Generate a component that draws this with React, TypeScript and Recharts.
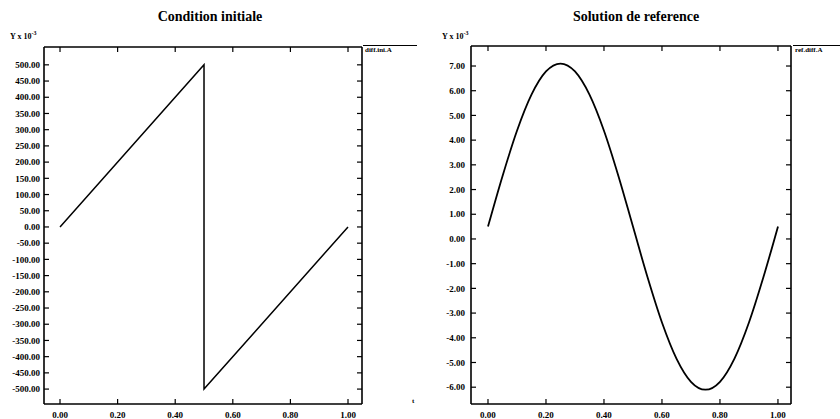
import React from 'react';
import { LineChart, Line, XAxis, YAxis } from 'recharts';

const sawX = [0, 0.5, 0.5, 1];
const sawY = [0, 500, -500, 0];

const refX = [0, 0.05, 0.1, 0.15, 0.2, 0.25, 0.3, 0.35, 0.4, 0.45, 0.5, 0.55, 0.6, 0.65, 0.7, 0.75, 0.8, 0.85, 0.9, 0.95, 1.0];
const refY = [0.5, 2.54, 4.38, 5.84, 6.78, 7.1, 6.78, 5.84, 4.38, 2.54, 0.5, -1.54, -3.38, -4.84, -5.78, -6.1, -5.78, -4.84, -3.38, -1.54, 0.5];

const xTicks = [0, 0.2, 0.4, 0.6, 0.8, 1.0];
const leftYTicks = [-500, -450, -400, -350, -300, -250, -200, -150, -100, -50, 0, 50, 100, 150, 200, 250, 300, 350, 400, 450, 500];
const rightYTicks = [-6, -5, -4, -3, -2, -1, 0, 1, 2, 3, 4, 5, 6, 7];

const leftTitle = 'Condition initiale';
const rightTitle = 'Solution de reference';
const leftLegend = 'diff.ini.A';
const rightLegend = 'ref.diff.A';

const sawData = sawX.map((x, i) => ({ x, y: sawY[i] }));
const refData = refX.map((x, i) => ({ x, y: refY[i] }));

const serif = 'Liberation Serif';
const axisLine = { stroke: '#000', strokeWidth: 1.6 };
const TICK_LEN = 5;
const fmt = (v: number) => v.toFixed(2);

type Side = 'bottom' | 'top' | 'left' | 'right';

function makeTick(side: Side, margin: number) {
  return function TickItem(props: any) {
    const { x, y, payload } = props;
    const label = fmt(Number(payload.value));
    if (side === 'bottom') {
      const ay = y - margin;
      return (
        <g>
          <line x1={x} x2={x} y1={ay} y2={ay - TICK_LEN} stroke="#000" strokeWidth={1.2} />
          <text x={x} y={y} dy="0.71em" textAnchor="middle" fontFamily={serif} fontWeight={700} fontSize={9} fill="#000">
            {label}
          </text>
        </g>
      );
    }
    if (side === 'left') {
      const ax = x + margin;
      return (
        <g>
          <line x1={ax} x2={ax + TICK_LEN} y1={y} y2={y} stroke="#000" strokeWidth={1.2} />
          <text x={x} y={y} dy="0.355em" textAnchor="end" fontFamily={serif} fontWeight={700} fontSize={9} fill="#000">
            {label}
          </text>
        </g>
      );
    }
    if (side === 'top') {
      return <line x1={x} x2={x} y1={y} y2={y + TICK_LEN} stroke="#000" strokeWidth={1.2} />;
    }
    return <line x1={x} x2={x - TICK_LEN} y1={y} y2={y} stroke="#000" strokeWidth={1.2} />;
  };
}

type PanelProps = {
  data: { x: number; y: number }[];
  xDomain: [number, number];
  yDomain: [number, number];
  yTicks: number[];
  margin: { top: number; right: number; bottom: number; left: number };
  yTickMargin: number;
  strokeWidth: number;
  type: 'linear' | 'monotone';
};

const X_TICK_MARGIN = 8;

function Panel({ data, xDomain, yDomain, yTicks, margin, yTickMargin, strokeWidth, type }: PanelProps) {
  return (
    <LineChart width={420} height={419} data={data} margin={margin}>
      <XAxis
        xAxisId="b"
        dataKey="x"
        type="number"
        domain={xDomain}
        allowDataOverflow
        ticks={xTicks}
        interval={0}
        height={1}
        tickSize={0}
        tickMargin={X_TICK_MARGIN}
        tick={makeTick('bottom', X_TICK_MARGIN)}
        axisLine={axisLine}
        tickLine={false}
      />
      <XAxis
        xAxisId="t"
        orientation="top"
        dataKey="x"
        type="number"
        domain={xDomain}
        allowDataOverflow
        ticks={xTicks}
        interval={0}
        height={1}
        tickSize={0}
        tickMargin={0}
        tick={makeTick('top', 0)}
        axisLine={axisLine}
        tickLine={false}
      />
      <YAxis
        yAxisId="l"
        dataKey="y"
        type="number"
        domain={yDomain}
        allowDataOverflow
        ticks={yTicks}
        interval={0}
        width={1}
        tickSize={0}
        tickMargin={yTickMargin}
        tick={makeTick('left', yTickMargin)}
        axisLine={axisLine}
        tickLine={false}
      />
      <YAxis
        yAxisId="r"
        orientation="right"
        dataKey="y"
        type="number"
        domain={yDomain}
        allowDataOverflow
        ticks={yTicks}
        interval={0}
        width={1}
        tickSize={0}
        tickMargin={0}
        tick={makeTick('right', 0)}
        axisLine={axisLine}
        tickLine={false}
      />
      <Line
        xAxisId="t"
        yAxisId="r"
        dataKey="y"
        type={type}
        stroke="none"
        dot={false}
        isAnimationActive={false}
      />
      <Line
        xAxisId="b"
        yAxisId="l"
        dataKey="y"
        type={type}
        stroke="#000"
        strokeWidth={strokeWidth}
        dot={false}
        isAnimationActive={false}
      />
    </LineChart>
  );
}

function Label({ left, top, children, size }: { left: number; top: number; children: React.ReactNode; size: number }) {
  return (
    <div
      style={{
        position: 'absolute',
        left,
        top,
        fontFamily: serif,
        fontWeight: 700,
        fontSize: size,
        lineHeight: 1,
        whiteSpace: 'nowrap',
        color: '#000',
      }}
    >
      {children}
    </div>
  );
}

function Legend({ left, top, text, lineWidth }: { left: number; top: number; text: string; lineWidth: number }) {
  return (
    <div style={{ position: 'absolute', left, top, width: lineWidth }}>
      <div style={{ borderTop: '1.5px solid #000', width: lineWidth }} />
      <div
        style={{
          fontFamily: serif,
          fontWeight: 700,
          fontSize: 7,
          lineHeight: 1,
          marginTop: 1,
          marginLeft: 2,
          whiteSpace: 'nowrap',
          color: '#000',
        }}
      >
        {text}
      </div>
    </div>
  );
}

export default function App() {
  return (
    <div style={{ position: 'absolute', left: 0, top: 0, width: 840, height: 419, background: '#fff', overflow: 'hidden' }}>
      <div style={{ position: 'absolute', left: 0, top: 0 }}>
        <Panel
          data={sawData}
          xDomain={[-0.0556, 1.0486]}
          yDomain={[-546, 555]}
          yTicks={leftYTicks}
          margin={{ top: 46, right: 57, bottom: 14, left: 43 }}
          yTickMargin={4}
          strokeWidth={1.5}
          type="linear"
        />
      </div>
      <div style={{ position: 'absolute', left: 420, top: 0 }}>
        <Panel
          data={refData}
          xDomain={[-0.0586, 1.045]}
          yDomain={[-6.68, 7.81]}
          yTicks={rightYTicks}
          margin={{ top: 45, right: 48, bottom: 14, left: 50 }}
          yTickMargin={6}
          strokeWidth={1.8}
          type="monotone"
        />
      </div>
      <div style={{ position: 'absolute', left: 0, top: 10, width: 420, textAlign: 'center', fontFamily: serif, fontWeight: 700, fontSize: 14, lineHeight: 1, color: '#000' }}>
        {leftTitle}
      </div>
      <div style={{ position: 'absolute', left: 426, top: 10, width: 420, textAlign: 'center', fontFamily: serif, fontWeight: 700, fontSize: 14, lineHeight: 1, color: '#000' }}>
        {rightTitle}
      </div>
      <Label left={10} top={30} size={8}>
        Y x 10<sup style={{ fontSize: 6 }}>-3</sup>
      </Label>
      <Label left={442} top={30} size={8}>
        Y x 10<sup style={{ fontSize: 6 }}>-3</sup>
      </Label>
      <Legend left={363} top={45} text={leftLegend} lineWidth={54} />
      <Legend left={793} top={45} text={rightLegend} lineWidth={47} />
      <Label left={412} top={398} size={7}>t</Label>
    </div>
  );
}
